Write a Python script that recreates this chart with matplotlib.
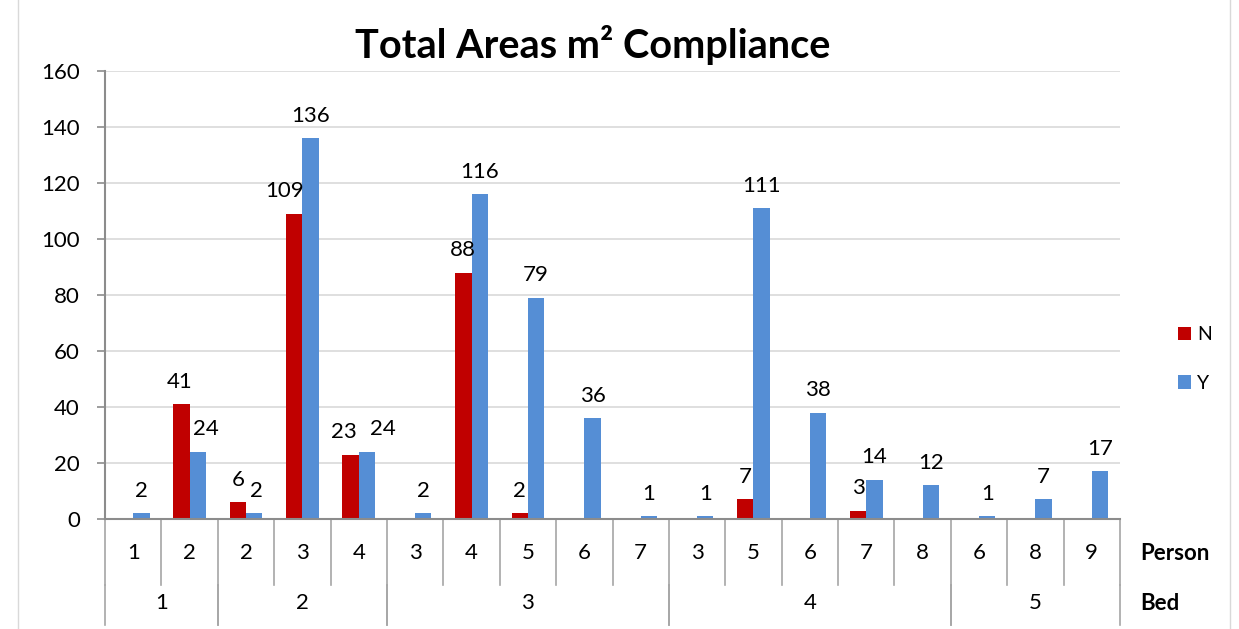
import matplotlib.pyplot as plt
import numpy as np
from matplotlib.patches import Rectangle

plt.rcParams['font.family'] = ['Lato', 'DejaVu Sans']

beds = [1, 1, 2, 2, 2, 3, 3, 3, 3, 3, 4, 4, 4, 4, 4, 5, 5, 5]
persons = [1, 2, 2, 3, 4, 3, 4, 5, 6, 7, 3, 5, 6, 7, 8, 6, 8, 9]
n_vals = [None, 41, 6, 109, 23, None, 88, 2, None, None,
          None, 7, None, 3, None, None, None, None]
y_vals = [2, 24, 2, 136, 24, 2, 116, 79, 36, 1, 1, 111, 38, 14, 12, 1, 7, 17]

red = '#C00000'
blue = '#558ED5'
axis_grey = '#8C8C8C'
fs = 16

W, H = 1239, 629
fig = plt.figure(figsize=(W / 100, H / 100), dpi=100)
ax = fig.add_axes([105 / W, 1 - 519 / H, (1120 - 105) / W, (519 - 71) / H])

x = np.arange(len(persons))
bw = 0.29
n_arr = np.array([np.nan if v is None else v for v in n_vals], dtype=float)
ax.bar(x - bw / 2, n_arr, bw, color=red, label='N', zorder=3)
ax.bar(x + bw / 2, y_vals, bw, color=blue, label='Y', zorder=3)

# label nudges (in category units) where N and Y labels would collide
n_nudge = {1: -0.03, 4: -0.12}
y_nudge = {1: 0.14, 2: 0.04, 4: 0.28}

off = 4.5
for i in range(len(persons)):
    if n_vals[i] is not None:
        if n_vals[i] > 100:
            # label pushed left so it clears the taller Y bar
            ax.text(x[i] + 0.02, n_vals[i] + off, str(n_vals[i]), ha='right',
                    va='bottom', fontsize=fs)
        else:
            ax.text(x[i] - bw / 2 + n_nudge.get(i, 0), n_vals[i] + off, str(n_vals[i]),
                    ha='center', va='bottom', fontsize=fs)
    ax.text(x[i] + bw / 2 + y_nudge.get(i, 0), y_vals[i] + off, str(y_vals[i]),
            ha='center', va='bottom', fontsize=fs)

ax.set_xlim(-0.5, len(persons) - 0.5)
ax.set_ylim(0, 160)
ax.set_yticks(range(0, 161, 20))
ax.tick_params(axis='y', length=6, width=1.2, color=axis_grey, labelsize=fs, pad=12)
ax.set_xticks([])
ax.grid(axis='y', color='#D9D9D9', linewidth=1.2, zorder=0)
for s in ['top', 'right']:
    ax.spines[s].set_visible(False)
for s in ['bottom', 'left']:
    ax.spines[s].set_color(axis_grey)
    ax.spines[s].set_linewidth(1.5)
    ax.spines[s].set_zorder(4)

trans = ax.get_xaxis_transform()

# person row
for i, p in enumerate(persons):
    ax.text(x[i], -0.076, str(p), ha='center', va='center', fontsize=fs, transform=trans)
for b in np.arange(-0.5, len(persons), 1.0):
    ax.plot([b, b], [0, -0.147], color='#A6A6A6', lw=1.2, transform=trans, clip_on=False)

# bed row
bed_ids = sorted(set(beds))
for bid in bed_ids:
    idx = [i for i, b in enumerate(beds) if b == bid]
    lo, hi = idx[0] - 0.5, idx[-1] + 0.5
    ax.text((lo + hi) / 2, -0.1875, str(bid), ha='center', va='center', fontsize=fs, transform=trans)
    for e in (lo, hi):
        ax.plot([e, e], [-0.147, -0.237], color='#A6A6A6', lw=1.2, transform=trans, clip_on=False)

fig.text(1140 / W, 1 - 553 / H, 'Person', ha='left', va='center', fontsize=fs, fontweight='bold')
fig.text(1140 / W, 1 - 603 / H, 'Bed', ha='left', va='center', fontsize=fs, fontweight='bold')

fig.text(593 / W, 1 - 45 / H, 'Total Areas m² Compliance', ha='center', va='center',
         fontsize=28.5, fontweight='bold')

fig.legend(loc='center left', bbox_to_anchor=(1160 / W, 1 - 359 / H), frameon=False,
           fontsize=14, handlelength=0.7, handleheight=0.7, handletextpad=0.3,
           labelspacing=1.6)

fig.patches.append(Rectangle((18 / W, -0.01), (1230 - 18) / W, 1.02, transform=fig.transFigure,
                             fill=False, edgecolor='#D9D9D9', lw=1))

fig.savefig('out.png', dpi=100)
